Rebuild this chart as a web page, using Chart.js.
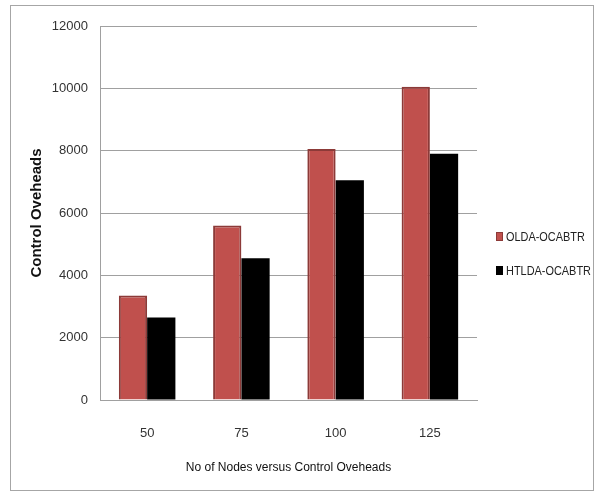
<!DOCTYPE html>
<html>
<head>
<meta charset="utf-8">
<script src="https://cdn.jsdelivr.net/npm/chart.js@4"></script>
<style>
  html, body { margin: 0; padding: 0; background: #fff; }
  #wrap { position: relative; width: 595px; height: 498px; }
  #frame { position: absolute; left: 10px; top: 5px; width: 584px; height: 486px; border: 1px solid #a6a6a6; box-sizing: border-box; }
  #legend { position: absolute; left: 496px; top: 228px; font-family: "Liberation Sans", sans-serif; font-size: 13px; color: #222; white-space: nowrap; }
  .item { display: flex; align-items: center; height: 17px; margin-bottom: 17px; }
  .box { width: 7px; height: 9px; margin-right: 3px; box-sizing: border-box; }
  .txt { display: inline-block; transform: scaleX(0.84); transform-origin: left center; }
</style>
</head>
<body>
<div id="wrap">
  <div id="frame"></div>
  <canvas id="chart" width="595" height="498"></canvas>
  <div id="legend"></div>
</div>
<script>
// Chart data
const categories = ['50', '75', '100', '125'];
const oldaValues = [3350, 5600, 8050, 10050];
const htldaValues = [2650, 4550, 7050, 7900];
const yTicks = [0, 2000, 4000, 6000, 8000, 10000, 12000];

const seriesNames = ['OLDA-OCABTR', 'HTLDA-OCABTR'];
const fills = ['#c0504d', '#000000'];
const borders = ['#8c3a38', '#000000'];

const fontFamily = '"Liberation Sans", sans-serif';

// Legend as plain html
const legend = document.getElementById('legend');
seriesNames.forEach((name, i) => {
    const item = document.createElement('div');
    item.className = 'item';
    item.innerHTML = `<span class="box" style="background:${fills[i]};border:1px solid ${borders[i]}"></span><span class="txt">${name}</span>`;
    legend.appendChild(item);
});

new Chart(document.getElementById('chart').getContext('2d'), {
    type: 'bar',
    data: {
        labels: categories,
        datasets: [
            {
                label: seriesNames[0],
                data: oldaValues,
                backgroundColor: fills[0],
                borderColor: borders[0],
                borderWidth: 2
            },
            {
                label: seriesNames[1],
                data: htldaValues,
                backgroundColor: fills[1],
                borderColor: borders[1],
                borderWidth: 0
            }
        ]
    },
    options: {
        responsive: false,
        animation: false,
        devicePixelRatio: 1,
        layout: { padding: { left: 20, top: 26, right: 118, bottom: 8 } },
        datasets: { bar: { categoryPercentage: 0.6, barPercentage: 1.0 } },
        plugins: {
            legend: { display: false },
            tooltip: { enabled: false }
        },
        scales: {
            x: {
                grid: { display: false, drawTicks: false },
                border: { color: '#a0a0a0' },
                ticks: { padding: 26, color: '#333', font: { family: fontFamily, size: 13 } },
                title: {
                    display: true,
                    text: 'No of Nodes versus Control Oveheads',
                    color: '#111',
                    padding: { top: 0, bottom: 15 },
                    font: { family: fontFamily, size: 12 }
                },
                afterFit: (scale) => { scale.height = 90; }
            },
            y: {
                min: 0,
                max: 12000,
                afterBuildTicks: (scale) => { scale.ticks = yTicks.map(v => ({ value: v })); },
                grid: { color: '#a0a0a0', drawTicks: false },
                border: { color: '#a0a0a0' },
                ticks: {
                    padding: 12,
                    color: '#333',
                    font: { family: fontFamily, size: 13 },
                    callback: (v) => String(v)
                },
                title: {
                    display: true,
                    text: 'Control Oveheads',
                    color: '#111',
                    padding: { top: 8, bottom: 0 },
                    font: { family: fontFamily, size: 15, weight: 'bold' }
                },
                afterFit: (scale) => { scale.width = 80; }
            }
        }
    }
});
</script>
</body>
</html>
